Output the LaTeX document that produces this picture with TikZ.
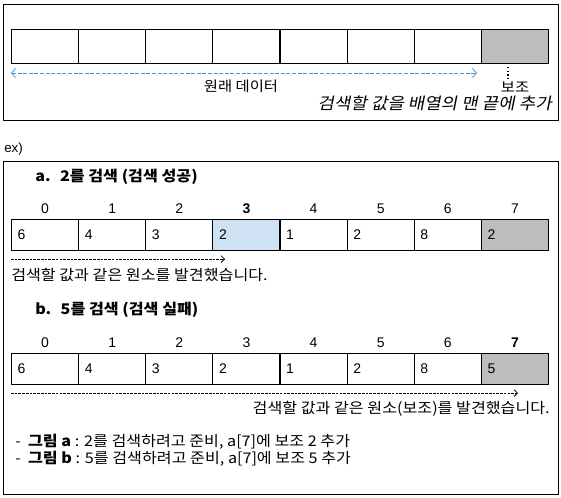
\documentclass[tikz,border=0pt]{standalone}
\usepackage{fontspec}
\setmainfont{Liberation Sans}
\newfontfamily\kr{Noto Sans CJK KR}[FakeStretch=1.1]
\newfontfamily\krit{Noto Sans CJK KR}[FakeSlant=0.2, FakeStretch=1.1]
\usetikzlibrary{arrows.meta,positioning}

\definecolor{sentinel}{HTML}{BDBDBD}
\definecolor{found}{HTML}{CFE2F3}
\definecolor{guide}{HTML}{4A90D9}

\tikzset{
  cell/.style={draw, line width=0.75pt, anchor=north west, minimum width=50.34pt,
    minimum height=23.25pt, inner sep=0pt, text width=41pt, align=left,
    font=\fontsize{10.5}{12}\selectfont},
  topcell/.style={cell, minimum height=25.5pt},
  idx/.style={font=\fontsize{10.5}{12}\selectfont, inner sep=0pt},
  label/.style={font=\kr\fontsize{11}{13}\selectfont, inner sep=0pt},
  toplabel/.style={font=\kr\fontsize{10.5}{12}\selectfont, inner sep=0pt},
  frame/.style={draw, line width=0.75pt},
  scan/.style={line width=0.6pt, dash pattern=on 2pt off 0.8pt, -{Straight Barb[length=2.5pt,width=5pt]}}
}

\begin{document}
\begin{tikzpicture}[x=0.75pt, y=-0.75pt]
    \useasboundingbox (0,0) rectangle (561,497);

    % Original array with the sentinel slot
    \draw[frame] (3,4) rectangle (558,120);
    \foreach \c [count=\i from 0] in {white,white,white,white,white,white,white,sentinel}
        \node[topcell, fill=\c] (t\i) at ({11+67.125*\i},29) {};

    \coordinate (dl) at (11,73);
    \coordinate (dr) at (477,73);
    \draw[guide, line width=0.6pt, dash pattern=on 3pt off 1.2pt,
          {Straight Barb[length=3pt,width=7pt]}-{Straight Barb[length=3pt,width=7pt]}] (dl) -- (dr);
    \node[toplabel] (orig) at (241,86) {원래 데이터};

    \node[toplabel] (aux) at (515,87) {보조};
    \coordinate (dt) at (508,67);
    \draw[dotted, line width=0.8pt] (dt) -- (dt |- aux.north);
    \node[label, anchor=east, font=\krit\fontsize{12.2}{14}\selectfont] (note) at (552,103) {검색할 값을 배열의 맨 끝에 추가};

    % Examples
    \node[anchor=west, inner sep=0pt, font=\fontsize{10}{12}\selectfont] (ex) at (4,149) {ex)};
    \draw[frame] (3,161) rectangle (558,494);

    % a. search succeeds
    \node[label, anchor=west, font=\kr\bfseries\fontsize{11}{13}\selectfont] (ta) at (35,177) {a.\hspace{7pt}2를 검색 (검색 성공)};
    \foreach \v/\c [count=\i from 0] in {6/white,4/white,3/white,2/found,1/white,2/white,8/white,2/sentinel} {
        \node[cell, fill=\c] (a\i) at ({11+67.125*\i},219) {\v};
    }
    \foreach \i in {0,1,2,4,5,6,7}
        \node[idx] (ia\i) at ([yshift=7.5pt]a\i.north) {\i};
    \node[idx, font=\bfseries\fontsize{10.5}{12}\selectfont] (ia3) at ([yshift=7.5pt]a3.north) {3};
    \coordinate (sa) at (11,259);
    \coordinate (ea) at (225,259);
    \draw[scan] (sa) -- (ea);
    \node[label, anchor=west] (ra) at (11,275) {검색할 값과 같은 원소를 발견했습니다.};

    % b. search fails
    \node[label, anchor=west, font=\kr\bfseries\fontsize{11}{13}\selectfont] (tb) at (35,310) {b.\hspace{7pt}5를 검색 (검색 실패)};
    \foreach \v/\c [count=\i from 0] in {6/white,4/white,3/white,2/white,1/white,2/white,8/white,5/sentinel} {
        \node[cell, fill=\c] (b\i) at ({11+67.125*\i},353) {\v};
    }
    \foreach \i in {0,...,6}
        \node[idx] (ib\i) at ([yshift=7.5pt]b\i.north) {\i};
    \node[idx, font=\bfseries\fontsize{10.5}{12}\selectfont] (ib7) at ([yshift=7.5pt]b7.north) {7};
    \coordinate (sb) at (11,393);
    \coordinate (eb) at (518,393);
    \draw[scan] (sb) -- (eb);
    \node[label, anchor=east] (rb) at (550,409) {검색할 값과 같은 원소(보조)를 발견했습니다.};

    % Notes
    \node[label, anchor=west] (na) at (15,442) {-\ \ \textbf{그림 a} : 2를 검색하려고 준비, a[7]에 보조 2 추가};
    \node[label, anchor=west] (nb) at (15,459) {-\ \ \textbf{그림 b} : 5를 검색하려고 준비, a[7]에 보조 5 추가};
\end{tikzpicture}
\end{document}
